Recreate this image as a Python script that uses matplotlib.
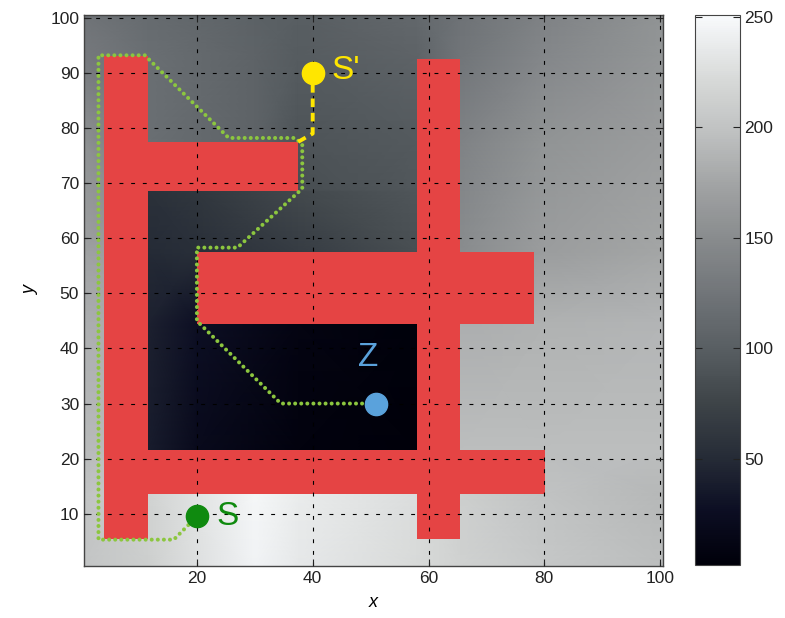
import numpy as np
import matplotlib
matplotlib.use('Agg')
from matplotlib import pyplot as plt
from matplotlib.patches import Rectangle
from matplotlib.colors import LinearSegmentedColormap

plt.rcParams['font.family'] = ['Liberation Sans', 'DejaVu Sans']

# background field, outer mesh (node values)
outer_x = [0.5, 11.5, 30, 37.5, 58, 65.5, 80, 100.5]
outer_y = [0.5, 13.5, 21.5, 44.5, 57.5, 77.5, 93, 100.5]
outer_val = [
    [202, 212, 245, 235, 222, 215, 205, 195],
    [200, 215, 248, 238, 225, 212, 200, 190],
    [192, 195, 200, 200, 200, 195, 195, 195],
    [182, 180, 180, 180, 180, 182, 185, 188],
    [172, 165, 76, 76, 90, 150, 168, 176],
    [155, 118, 106, 90, 96, 140, 158, 168],
    [130, 118, 106, 98, 106, 125, 145, 160],
    [124, 114, 104, 100, 110, 122, 140, 158],
]

# enclosed dark region
box_x = [11.5, 20, 37.5, 58]
box_y = [21.5, 44.5, 57.5, 68.5]
box_val = [
    [38, 20, 6, 2],
    [42, 28, 10, 3],
    [50, 54, 68, 86],
    [56, 62, 80, 92],
]

# colour scale as seen on the colour bar
cmap_pos = [0, 25, 50, 75, 100, 125, 150, 175, 200, 225, 255]
cmap_rgb = [(0, 0, 10), (12, 14, 35), (38, 44, 55), (62, 68, 72), (88, 94, 98),
            (112, 116, 120), (135, 138, 140), (160, 162, 163), (190, 192, 192),
            (215, 217, 216), (248, 250, 252)]

# obstacles: (x0, y0, x1, y1)
walls = [
    (4, 5.5, 11.5, 93),
    (11.5, 68.5, 37.5, 77.5),
    (20, 44.5, 78.2, 57.5),
    (58, 5.5, 65.5, 92.5),
    (11.5, 13.5, 80.2, 21.5),
]

# path
path_x = [20, 16, 3, 3, 11, 25.5, 37, 38.2, 38.2, 27, 20, 20, 34.5, 51]
path_y = [9.5, 5.3, 5.3, 93.2, 93.2, 78.2, 78.2, 77, 69, 58.3, 58.3, 45, 30, 30]
link_x = [37.5, 40, 40]
link_y = [77.5, 79, 89]

points = {'S': (20, 9.5), "S'": (40, 90), 'Z': (51, 30)}

cmap = LinearSegmentedColormap.from_list(
    'field', [(p / 255, tuple(c / 255 for c in rgb)) for p, rgb in zip(cmap_pos, cmap_rgb)])

fig = plt.figure(figsize=(7.85, 6.18), dpi=100)
ax = fig.add_axes([0.107, 0.084, 0.7376, 0.8916])
cax = fig.add_axes([0.885, 0.086, 0.0573, 0.89])

vmin, vmax = 2, 251
X, Y = np.meshgrid(outer_x, outer_y)
mesh = ax.pcolormesh(X, Y, np.array(outer_val, float), shading='gouraud',
                     cmap=cmap, vmin=vmin, vmax=vmax, zorder=0)
X, Y = np.meshgrid(box_x, box_y)
ax.pcolormesh(X, Y, np.array(box_val, float), shading='gouraud',
              cmap=cmap, vmin=vmin, vmax=vmax, zorder=0.5)

for x0, y0, x1, y1 in walls:
    ax.add_patch(Rectangle((x0, y0), x1 - x0, y1 - y0, facecolor='#E54444',
                           edgecolor='none', zorder=1))

ax.set_xlim(0.5, 100.5)
ax.set_ylim(0.5, 100.5)
ax.set_xticks([20, 40, 60, 80, 100])
ax.set_yticks(range(10, 101, 10))
ax.tick_params(direction='in', top=True, right=True, length=5, width=0.8,
               labelsize=12.5, colors='#222222')
ax.grid(True, color='black', linestyle=(0, (3.5, 7)), linewidth=0.8, zorder=2)
ax.set_axisbelow(False)
for s in ax.spines.values():
    s.set_color('#444444')
    s.set_linewidth(1.0)
ax.set_xlabel('x', fontsize=13, style='italic', labelpad=6)
ax.set_ylabel('y', fontsize=13, style='italic', labelpad=8)

ax.plot(path_x, path_y, color='#8CC63F', linewidth=2.9,
        linestyle=(0, (0.01, 1.5)), dash_capstyle='round', zorder=3)
ax.plot(link_x, link_y, color='#FFE600', linewidth=2.8,
        linestyle=(0, (2.2, 1.5)), zorder=3)

colors = {'S': '#0F8A0F', "S'": '#FFE600', 'Z': '#5AA2DC'}
for name, (px, py) in points.items():
    ax.plot(px, py, 'o', color=colors[name], markersize=16, zorder=4)
ax.text(23.3, 9.5, 'S', color=colors['S'], fontsize=24, va='center', ha='left', zorder=5)
ax.text(43.3, 90.5, "S'", color=colors["S'"], fontsize=24, va='center', ha='left', zorder=5)
ax.text(49.5, 38.3, 'Z', color=colors['Z'], fontsize=24, va='center', ha='center', zorder=5)

cb = fig.colorbar(mesh, cax=cax)
cb.set_ticks([50, 100, 150, 200, 250])
cax.tick_params(direction='in', left=True, right=True, length=5, width=0.8,
                labelsize=12.5, colors='#222222')
cb.outline.set_edgecolor('#444444')

fig.savefig('out.png', dpi=100)
